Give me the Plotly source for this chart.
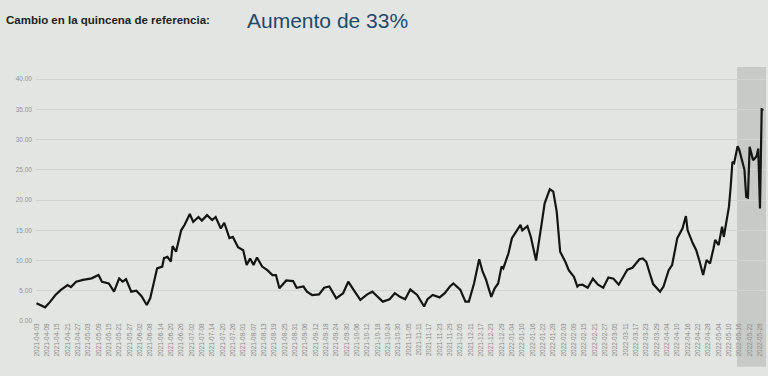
import pandas as pd
import plotly.graph_objects as go

start_date = "2021-04-03"
end_label = "2022-05-28"
quincena_start_day = 406.7

day_offsets = [0, 5, 8, 11, 14, 18, 20, 23, 27, 32, 36, 38, 42, 45, 48, 50, 52, 55, 58, 61,
               64, 66, 68, 70, 73, 74, 76, 78, 79, 81, 84, 86, 89, 91, 94, 96, 99, 102, 104, 107,
               109, 112, 114, 117, 120, 122, 124, 126, 128, 131, 134, 137, 139, 141,
               145, 149, 151, 155, 157, 160, 164, 167, 170, 174, 178, 181, 184, 188, 192, 195,
               197, 201, 205, 208, 211, 214, 217, 221, 225, 227, 230, 234, 237, 240, 242, 246,
               249, 251, 254, 257, 259, 261, 264, 266, 268, 270, 271, 274, 276, 279, 281, 282,
               285, 287, 290, 293, 295, 298, 300, 302, 304, 307, 309, 312, 314, 315,
               317, 320, 323, 326, 329, 332, 335, 338, 341, 343, 346, 349,
               350, 352, 354, 356, 358, 362, 364, 367, 369, 372, 375, 377, 378, 381, 383, 385,
               387, 389, 391, 393, 394, 396, 398, 399, 402, 403, 404, 405, 407, 408, 410, 411,
               412, 413, 414, 415, 416, 418, 419, 420, 421, 422]

values = [2.93, 2.26, 3.2, 4.3, 5.1, 5.95, 5.6, 6.5, 6.8, 7.05, 7.6, 6.5, 6.2, 4.85, 7.05, 6.5, 6.9, 4.85, 5.0, 4.1,
          2.65, 3.75, 6.2, 8.7, 9.0, 10.4, 10.6, 9.8, 12.4, 11.45, 15.0, 15.9, 17.7, 16.4, 17.2, 16.6, 17.5, 16.7, 17.2, 15.3,
          16.25, 13.7, 13.9, 12.2, 11.7, 9.25, 10.35, 9.25, 10.5, 9.0, 8.4, 7.6, 7.6, 5.4,
          6.7, 6.6, 5.5, 5.7, 4.85, 4.3, 4.4, 5.5, 5.7, 3.75, 4.6, 6.5, 5.2, 3.5, 4.4, 4.85,
          4.3, 3.2, 3.6, 4.6, 4.0, 3.6, 5.2, 4.3, 2.4, 3.6, 4.3, 3.9, 4.6, 5.7, 6.2, 5.2,
          3.2, 3.2, 6.2, 10.2, 8.15, 6.8, 4.0, 5.4, 6.2, 9.0, 8.7, 11.2, 13.7, 15.0, 15.9, 15.0,
          15.7, 13.9, 10.0, 15.6, 19.45, 21.8, 21.4, 18.1, 11.45, 9.8, 8.4, 7.3, 5.7, 5.95,
          6.0, 5.5, 7.0, 6.0, 5.5, 7.2, 7.0, 6.0, 7.5, 8.5, 8.8, 9.8,
          10.2, 10.35, 9.8, 7.9, 6.1, 4.85, 5.7, 8.4, 9.25, 13.7, 15.3, 17.35, 15.0, 12.85, 11.7, 9.8,
          7.6, 10.1, 9.5, 12.0, 13.4, 12.55, 15.6, 13.9, 18.9, 22.2, 26.3, 26.1, 28.9, 28.3, 25.8, 25.0,
          20.5, 20.4, 28.8, 27.7, 26.6, 27.2, 28.5, 18.6, 35.0, 34.9]

y_ticks = [0, 5, 10, 15, 20, 25, 30, 35, 40]
title_left = "Cambio en la quincena de referencia:"
title_right = "Aumento de 33%"

t0 = pd.Timestamp(start_date)
dates = [t0 + pd.Timedelta(days=d) for d in day_offsets]

fig = go.Figure()
fig.add_trace(go.Scatter(x=dates, y=values, mode="lines",
                         line=dict(color="#151515", width=2.2), hoverinfo="skip",
                         showlegend=False))

x_min = t0 - pd.Timedelta(hours=7)
x_max = t0 + pd.Timedelta(days=423.5)

fig.add_shape(type="rect", xref="x", yref="paper",
              x0=t0 + pd.Timedelta(days=quincena_start_day), x1=x_max,
              y0=-0.18, y1=1.0, fillcolor="#c8cac7", line_width=0, layer="below")

fig.update_layout(
    width=768, height=376,
    margin=dict(l=36, r=2, t=67, b=55, autoexpand=False),
    paper_bgcolor="#e3e5e2", plot_bgcolor="rgba(0,0,0,0)",
    font=dict(family="Liberation Sans, Arial, sans-serif", color="#888888"),
    hovermode=False,
    xaxis=dict(range=[x_min, x_max], tickmode="linear", tick0=start_date,
               dtick=6 * 86400000, tickformat="%Y-%m-%d", tickangle=-90,
               tickfont=dict(size=6.5, color="#8a8a8a"), showgrid=False,
               zeroline=False, showline=False, ticks="", automargin=False),
    yaxis=dict(range=[0, 42], tickvals=y_ticks, tickformat=".2f",
               tickfont=dict(size=6.5, color="#939393"), showgrid=True,
               gridcolor="#d2d4d1", gridwidth=1, zeroline=False, ticks="",
               ticklabelstandoff=3, automargin=False),
    annotations=[
        dict(text="<b>" + title_left + "</b>", xref="paper", yref="paper",
             x=-0.044, y=1.185, xanchor="left", yanchor="middle", showarrow=False,
             font=dict(size=11.5, color="#222222", family="Liberation Sans, Arial, sans-serif")),
        dict(text=title_right, xref="paper", yref="paper",
             x=0.286, y=1.185, xanchor="left", yanchor="middle", showarrow=False,
             font=dict(size=21, color="#1c4b6c", family="Liberation Sans, Arial, sans-serif")),
    ],
)

fig.write_html("out.html", config={"displayModeBar": False, "staticPlot": True},
               post_script="document.body.style.margin='0';document.body.style.background='#e3e5e2';")
